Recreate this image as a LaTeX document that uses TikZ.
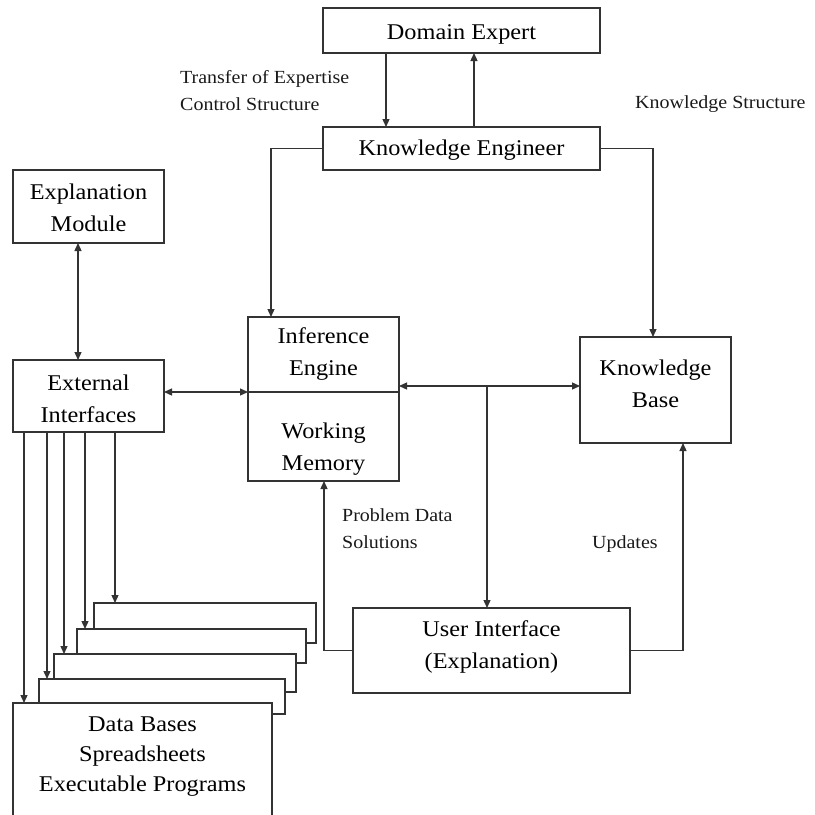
\documentclass[tikz,border=0pt]{standalone}
\usepackage{fontspec}
\setmainfont[FakeStretch=1.08]{Liberation Serif}
\usetikzlibrary{arrows.meta}
\begin{document}
\begin{tikzpicture}[x=1pt,y=-1pt,
  boxtext/.style={font=\fontsize{22.5}{32}\selectfont, align=center, text=black, inner sep=0pt},
  frame/.style={draw=black!80, line width=1.3pt, fill=white, inner sep=0pt, outer sep=0pt},
  lbl/.style={font=\fontsize{18.5}{27}\selectfont, anchor=base west, inner sep=0pt, text=black!90},
  conn/.style={draw=black!80, line width=1.3pt},
  tip/.tip={Triangle[length=8pt,width=7pt]},
  arr/.style={conn, -tip},
  dbl/.style={conn, tip-tip}
]
\useasboundingbox (0,0) rectangle (815,815);

% x positions of vertical connectors
\coordinate (x24) at (24,0);
\coordinate (x47) at (47,0);
\coordinate (x64) at (64,0);
\coordinate (x78) at (78,0);
\coordinate (x85) at (85,0);
\coordinate (x115) at (115,0);
\coordinate (x271) at (271,0);
\coordinate (x324) at (324,0);
\coordinate (x386) at (386,0);
\coordinate (x474) at (474,0);
\coordinate (x653) at (653,0);
\coordinate (x683) at (683,0);
\coordinate (y386) at (0,386);

% boxes
\node[frame, minimum width=277pt, minimum height=45pt] (de) at (461.5,30.5) {};
\node[boxtext] (detext) at (461.5,34.9) {Domain Expert};

\node[frame, minimum width=277pt, minimum height=43pt] (ke) at (461.5,148.5) {};
\node[boxtext] (ketext) at (461.5,149.9) {Knowledge Engineer};

\node[frame, minimum width=151pt, minimum height=73pt] (em) at (88.5,206.5) {};
\node[boxtext] (emtext) at (88.5,207.3) {Explanation\\Module};

\node[frame, minimum width=151pt, minimum height=72pt] (ei) at (88.5,396) {};
\node[boxtext] (eitext) at (88.5,398.4) {External\\Interfaces};

\node[frame, minimum width=151pt, minimum height=75pt] (ie) at (323.5,354.5) {};
\node[boxtext] (ietext) at (323.5,353.9) {Inference\\Engine};
\node[frame, minimum width=151pt, minimum height=89pt] (wm) at (323.5,436.5) {};
\node[boxtext] (wmtext) at (323.5,448.9) {Working\\Memory};

\node[frame, minimum width=151pt, minimum height=106pt] (kb) at (655.5,390) {};
\node[boxtext] (kbtext) at (655.5,383.4) {Knowledge\\Base};

\node[frame, minimum width=277pt, minimum height=85pt] (ui) at (491.5,650.5) {};
\node[boxtext] (uitext) at (491.5,647.4) {User Interface\\(Explanation)};

% stacked data sources, back to front
\node[frame, minimum width=222pt, minimum height=40pt] (s1) at (205,623) {};
\node[frame, minimum width=229pt, minimum height=34pt] (s2) at (191.5,646) {};
\node[frame, minimum width=242pt, minimum height=38pt] (s3) at (175,673) {};
\node[frame, minimum width=246pt, minimum height=35pt] (s4) at (162,696.5) {};
\node[frame, minimum width=259pt, minimum height=127pt] (s5) at (142.5,766.5) {};
\node[boxtext, font=\fontsize{22.5}{30}\selectfont] (s5text) at (142.5,756.4) {Data Bases\\Spreadsheets\\Executable Programs};

% labels
\node[lbl] (l1) at (180,83) {Transfer of Expertise};
\node[lbl] (l2) at (180,110) {Control Structure};
\node[lbl] (l3) at (635,108) {Knowledge Structure};
\node[lbl] (l4) at (342,521) {Problem Data};
\node[lbl] (l5) at (342,548) {Solutions};
\node[lbl] (l6) at (592,548) {Updates};

% connectors
\draw[arr] (de.south -| x386) -- (ke.north -| x386);
\draw[arr] (ke.north -| x474) -- (de.south -| x474);
\draw[arr] (ke.west) -| (ie.north -| x271);
\draw[arr] (ke.east) -| (kb.north -| x653);

\draw[dbl] (em.south -| x78) -- (ei.north -| x78);
\draw[dbl] (ei.east |- ie.south west) -- (ie.south west);
\draw[dbl] (ie.east |- y386) -- (kb.west |- y386);
\coordinate (junc) at (487,386);
\draw[arr] (junc) -- (ui.north -| junc);

\draw[arr] (ui.west) -| (wm.south -| x324);
\draw[arr] (ui.east) -| (kb.south -| x683);

\draw[arr] (ei.south -| x24) -- (s5.north -| x24);
\draw[arr] (ei.south -| x47) -- (s4.north -| x47);
\draw[arr] (ei.south -| x64) -- (s3.north -| x64);
\draw[arr] (ei.south -| x85) -- (s2.north -| x85);
\draw[arr] (ei.south -| x115) -- (s1.north -| x115);
\end{tikzpicture}
\end{document}
